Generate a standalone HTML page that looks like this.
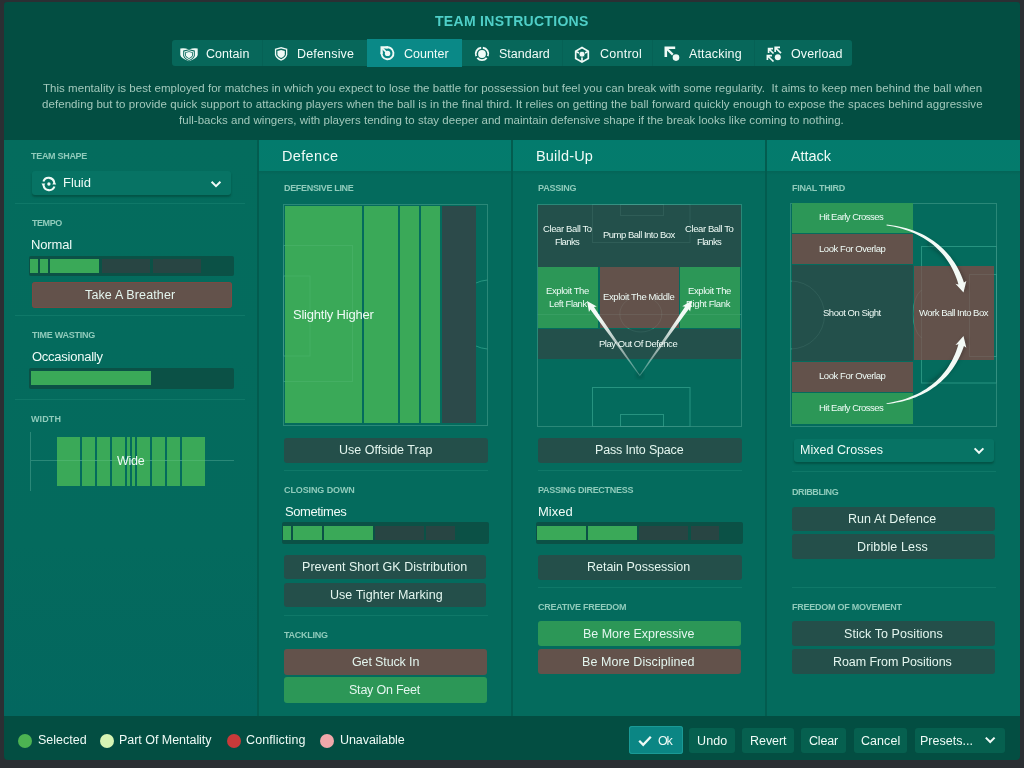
<!DOCTYPE html>
<html><head><meta charset="utf-8"><style>
html,body{margin:0;padding:0;width:1024px;height:768px;overflow:hidden;background:#2b2f33;}
body{position:relative;font-family:"Liberation Sans", sans-serif;}
div,span,svg{position:absolute;}
span{white-space:nowrap;will-change:transform;}
</style></head><body>
<div style="left:4px;top:2px;width:1016px;height:758px;background:#034e42;border-radius:3px 3px 4px 4px;"></div>
<div style="left:4px;top:140px;width:253px;height:576px;background:linear-gradient(180deg,#046c5d 0%,#046a5d 70%,#03675f 100%);"></div>
<div style="left:257px;top:140px;width:2px;height:576px;background:#035c4f;"></div>
<div style="left:511px;top:140px;width:2px;height:576px;background:#035c4f;"></div>
<div style="left:765px;top:140px;width:2px;height:576px;background:#035c4f;"></div>
<div style="left:259px;top:140px;width:252px;height:576px;background:#046b5d;"></div>
<div style="left:259px;top:140px;width:252px;height:31px;background:linear-gradient(180deg,#037b6d 0%,#047b6c 100%);"></div>
<div style="left:259px;top:171px;width:252px;height:4px;background:linear-gradient(180deg,rgba(0,40,30,0.10),rgba(0,0,0,0));"></div>
<div style="left:513px;top:140px;width:252px;height:576px;background:#046b5d;"></div>
<div style="left:513px;top:140px;width:252px;height:31px;background:linear-gradient(180deg,#037b6d 0%,#047b6c 100%);"></div>
<div style="left:513px;top:171px;width:252px;height:4px;background:linear-gradient(180deg,rgba(0,40,30,0.10),rgba(0,0,0,0));"></div>
<div style="left:767px;top:140px;width:253px;height:576px;background:#046b5d;"></div>
<div style="left:767px;top:140px;width:253px;height:31px;background:linear-gradient(180deg,#037b6d 0%,#047b6c 100%);"></div>
<div style="left:767px;top:171px;width:253px;height:4px;background:linear-gradient(180deg,rgba(0,40,30,0.10),rgba(0,0,0,0));"></div>
<svg style="left:0;top:0" width="1024" height="768" viewBox="0 0 1024 768">
<defs><clipPath id="cpd"><rect x="476" y="200" width="14" height="230"/></clipPath></defs>
<g fill="none" stroke="rgba(80,215,180,0.30)" stroke-width="1">
<rect x="283.5" y="245.5" width="69" height="136"/>
<rect x="283.5" y="276" width="26.5" height="80"/>
<path d="M487.5,280 A34.6,34.6 0 0 0 487.5,349" clip-path="url(#cpd)"/>
<rect x="592.5" y="204.5" width="97.5" height="38"/>
<rect x="620.5" y="204.5" width="43" height="11"/>
<rect x="592.5" y="387.5" width="97.5" height="39"/>
<rect x="620.5" y="414.5" width="43" height="12"/>
<line x1="537.5" y1="314.5" x2="741.5" y2="314.5"/>
<ellipse cx="640.8" cy="314" rx="21" ry="18"/>
<rect x="921.5" y="246.5" width="75" height="136.5"/>
<rect x="969.5" y="274.5" width="27" height="82"/>
<path d="M790.5,281 A34,34 0 0 1 790.5,349"/>
<path d="M921.5,290 A14,26 0 0 0 921.5,338"/>
</g></svg>
<div style="left:172px;top:40px;width:680px;height:26px;background:#07675a;border-radius:3px;"></div>
<div style="left:262px;top:40px;width:1px;height:26px;background:#066155;"></div>
<div style="left:562px;top:40px;width:1px;height:26px;background:#066155;"></div>
<div style="left:652px;top:40px;width:1px;height:26px;background:#066155;"></div>
<div style="left:754px;top:40px;width:1px;height:26px;background:#066155;"></div>
<div style="left:367px;top:39px;width:95px;height:28px;background:#0a8987;"></div>
<div style="left:32px;top:171px;width:199px;height:24px;background:#077364;border-radius:3px;box-shadow:0 2px 2px rgba(0,40,30,0.35);"></div>
<div style="left:15px;top:203px;width:230px;height:1px;background:#0f7868;"></div>
<div style="left:29px;top:256px;width:205px;height:20px;background:#0b5146;border-radius:2px;"></div>
<div style="left:30px;top:259px;width:8px;height:14px;background:#3aa958;"></div>
<div style="left:40px;top:259px;width:8px;height:14px;background:#3aa958;"></div>
<div style="left:50px;top:259px;width:49px;height:14px;background:#3aa958;"></div>
<div style="left:101.5px;top:259px;width:48.5px;height:14px;background:#284543;"></div>
<div style="left:152.5px;top:259px;width:48.0px;height:14px;background:#284543;"></div>
<div style="left:31.5px;top:282px;width:200.5px;height:26px;background:#63524b;border-radius:3px;box-shadow:inset 0 0 0 1px rgba(150,65,55,0.45);"></div>
<div style="left:15px;top:315px;width:230px;height:1px;background:#0f7868;"></div>
<div style="left:29px;top:367.5px;width:205px;height:21.0px;background:#0b5146;border-radius:2px;"></div>
<div style="left:31px;top:371px;width:120px;height:14px;background:#3aa958;"></div>
<div style="left:15px;top:399px;width:230px;height:1px;background:#0f7868;"></div>
<div style="left:30px;top:432px;width:1px;height:59px;background:#2a8878;"></div>
<div style="left:30px;top:460px;width:204px;height:1px;background:#2a8878;"></div>
<div style="left:57px;top:437px;width:23px;height:49px;background:#3aa958;"></div>
<div style="left:82px;top:437px;width:13px;height:49px;background:#3aa958;"></div>
<div style="left:97px;top:437px;width:13px;height:49px;background:#3aa958;"></div>
<div style="left:112px;top:437px;width:13px;height:49px;background:#3aa958;"></div>
<div style="left:127px;top:437px;width:3px;height:49px;background:#3aa958;"></div>
<div style="left:132px;top:437px;width:3px;height:49px;background:#3aa958;"></div>
<div style="left:137px;top:437px;width:13px;height:49px;background:#3aa958;"></div>
<div style="left:152px;top:437px;width:13px;height:49px;background:#3aa958;"></div>
<div style="left:167px;top:437px;width:13px;height:49px;background:#3aa958;"></div>
<div style="left:182px;top:437px;width:23px;height:49px;background:#3aa958;"></div>
<div style="left:57px;top:460px;width:148px;height:1px;background:rgba(200,255,235,0.12);"></div>
<div style="left:283px;top:203.5px;width:205px;height:222.5px;background:transparent;box-shadow:inset 0 0 0 1px #2a8878;"></div>
<div style="left:285px;top:206px;width:77px;height:217px;background:#3aa958;"></div>
<div style="left:364px;top:206px;width:34px;height:217px;background:#3aa958;"></div>
<div style="left:400px;top:206px;width:19px;height:217px;background:#3aa958;"></div>
<div style="left:421px;top:206px;width:19px;height:217px;background:#3aa958;"></div>
<div style="left:442px;top:206px;width:34px;height:217px;background:#2c4a4a;"></div>
<div style="left:284px;top:437.5px;width:204px;height:25.0px;background:#244f4a;border-radius:3px;"></div>
<div style="left:284px;top:470px;width:204px;height:1px;background:#0f7868;"></div>
<div style="left:282px;top:522px;width:207px;height:22px;background:#0b5146;border-radius:2px;"></div>
<div style="left:283.3px;top:526px;width:7.699999999999989px;height:14px;background:#3aa958;"></div>
<div style="left:293px;top:526px;width:29px;height:14px;background:#3aa958;"></div>
<div style="left:324px;top:526px;width:49px;height:14px;background:#3aa958;"></div>
<div style="left:375px;top:526px;width:49px;height:14px;background:#284543;"></div>
<div style="left:426px;top:526px;width:29px;height:14px;background:#284543;"></div>
<div style="left:284px;top:554.6px;width:202px;height:24.600000000000023px;background:#244f4a;border-radius:3px;"></div>
<div style="left:284px;top:582.7px;width:202px;height:24.59999999999991px;background:#244f4a;border-radius:3px;"></div>
<div style="left:284px;top:614.5px;width:204px;height:1.0px;background:#0f7868;"></div>
<div style="left:284px;top:649.4px;width:203px;height:25.600000000000023px;background:#63524b;border-radius:3px;"></div>
<div style="left:284px;top:677px;width:203px;height:26px;background:#2c9757;border-radius:3px;"></div>
<div style="left:537px;top:204px;width:205px;height:223px;background:transparent;box-shadow:inset 0 0 0 1px #2a8878;"></div>
<div style="left:538px;top:204.5px;width:203px;height:62.0px;background:#23504b;"></div>
<div style="left:538px;top:267px;width:60px;height:61px;background:#2c9757;"></div>
<div style="left:599.5px;top:267px;width:79.0px;height:61px;background:#63524b;"></div>
<div style="left:680px;top:267px;width:60px;height:61px;background:#2c9757;"></div>
<div style="left:538px;top:328.5px;width:203px;height:30.5px;background:#23504b;"></div>
<div style="left:538px;top:437.5px;width:203.5px;height:25.0px;background:#244f4a;border-radius:3px;"></div>
<div style="left:538px;top:470px;width:204px;height:1px;background:#0f7868;"></div>
<div style="left:536px;top:522px;width:207px;height:22px;background:#0b5146;border-radius:2px;"></div>
<div style="left:537px;top:526px;width:49px;height:14px;background:#3aa958;"></div>
<div style="left:588px;top:526px;width:49px;height:14px;background:#3aa958;"></div>
<div style="left:639px;top:526px;width:49px;height:14px;background:#284543;"></div>
<div style="left:691px;top:526px;width:27.5px;height:14px;background:#284543;"></div>
<div style="left:538px;top:554.6px;width:203.5px;height:25.199999999999932px;background:#244f4a;border-radius:3px;"></div>
<div style="left:538px;top:587px;width:204px;height:1px;background:#0f7868;"></div>
<div style="left:538px;top:621px;width:203px;height:25.399999999999977px;background:#2c9757;border-radius:3px;"></div>
<div style="left:538px;top:649.2px;width:203px;height:25.299999999999955px;background:#63524b;border-radius:3px;"></div>
<div style="left:790px;top:203px;width:207px;height:224px;background:transparent;box-shadow:inset 0 0 0 1px #2a8878;"></div>
<div style="left:792px;top:202.5px;width:121px;height:30.5px;background:#2c9757;"></div>
<div style="left:792px;top:234px;width:121px;height:30px;background:#63524b;"></div>
<div style="left:792px;top:265px;width:121px;height:95.5px;background:#23504b;"></div>
<div style="left:792px;top:361.5px;width:121px;height:30.5px;background:#63524b;"></div>
<div style="left:792px;top:393px;width:121px;height:31px;background:#2c9757;"></div>
<div style="left:913.7px;top:266px;width:80.29999999999995px;height:94px;background:#63524b;"></div>
<div style="left:794px;top:438.6px;width:200px;height:23.399999999999977px;background:#077364;border-radius:3px;box-shadow:0 2px 2px rgba(0,40,30,0.35);"></div>
<div style="left:792px;top:471px;width:204px;height:1px;background:#0f7868;"></div>
<div style="left:792px;top:506.7px;width:203px;height:24.599999999999966px;background:#244f4a;border-radius:3px;"></div>
<div style="left:792px;top:534.4px;width:203px;height:25.0px;background:#244f4a;border-radius:3px;"></div>
<div style="left:792px;top:586.5px;width:204px;height:1.0px;background:#0f7868;"></div>
<div style="left:792px;top:621px;width:203px;height:25.399999999999977px;background:#244f4a;border-radius:3px;"></div>
<div style="left:792px;top:649.2px;width:203px;height:25.299999999999955px;background:#244f4a;border-radius:3px;"></div>
<div style="left:18px;top:734px;width:14px;height:14px;background:#4cb352;border-radius:50%;"></div>
<div style="left:100px;top:734px;width:14px;height:14px;background:#d6f5b4;border-radius:50%;"></div>
<div style="left:227px;top:734px;width:14px;height:14px;background:#c83a3a;border-radius:50%;"></div>
<div style="left:320px;top:734px;width:14px;height:14px;background:#f0a8aa;border-radius:50%;"></div>
<div style="left:629px;top:726px;width:54px;height:27.5px;background:#0b8684;border-radius:3px;box-shadow:inset 0 0 0 1px #1a9a96;"></div>
<div style="left:689.3px;top:727.5px;width:45.90000000000009px;height:25.0px;background:#06604f;border-radius:3px;"></div>
<div style="left:742px;top:727.5px;width:51.799999999999955px;height:25.0px;background:#06604f;border-radius:3px;"></div>
<div style="left:801.4px;top:727.5px;width:44.60000000000002px;height:25.0px;background:#06604f;border-radius:3px;"></div>
<div style="left:853.5px;top:727.5px;width:53.0px;height:25.0px;background:#06604f;border-radius:3px;"></div>
<div style="left:914.5px;top:727.5px;width:90.29999999999995px;height:25.0px;background:#06604f;border-radius:3px;"></div>
<svg style="left:0;top:0" width="1024" height="768" viewBox="0 0 1024 768">
<defs><clipPath id="cpd"><rect x="476" y="200" width="14" height="230"/></clipPath></defs>
<g fill="none" stroke="rgba(200,255,235,0.075)" stroke-width="1">
<rect x="283.5" y="245.5" width="69" height="136"/>
<rect x="283.5" y="276" width="26.5" height="80"/>
<path d="M487.5,280 A34.6,34.6 0 0 0 487.5,349" clip-path="url(#cpd)"/>
<rect x="592.5" y="204.5" width="97.5" height="38"/>
<rect x="620.5" y="204.5" width="43" height="11"/>
<rect x="592.5" y="387.5" width="97.5" height="39"/>
<rect x="620.5" y="414.5" width="43" height="12"/>
<line x1="537.5" y1="314.5" x2="741.5" y2="314.5"/>
<ellipse cx="640.8" cy="314" rx="21" ry="18"/>
<rect x="921.5" y="246.5" width="75" height="136.5"/>
<rect x="969.5" y="274.5" width="27" height="82"/>
<path d="M790.5,281 A34,34 0 0 1 790.5,349"/>
<path d="M921.5,290 A14,26 0 0 0 921.5,338"/>
</g></svg>
<span style="left:435.00px;top:14.00px;font-size:14px;line-height:14px;font-weight:700;color:#4fcfc8;letter-spacing:0.299px;">TEAM INSTRUCTIONS</span>
<span style="left:206.30px;top:48.00px;font-size:12.5px;line-height:12.5px;font-weight:400;color:#f2fcf8;letter-spacing:0.045px;">Contain</span>
<span style="left:297.40px;top:48.00px;font-size:12.5px;line-height:12.5px;font-weight:400;color:#f2fcf8;letter-spacing:0.171px;">Defensive</span>
<span style="left:404.40px;top:48.00px;font-size:12.5px;line-height:12.5px;font-weight:400;color:#f2fcf8;letter-spacing:0.049px;">Counter</span>
<span style="left:499.00px;top:48.00px;font-size:12.5px;line-height:12.5px;font-weight:400;color:#f2fcf8;letter-spacing:0.003px;">Standard</span>
<span style="left:599.50px;top:48.00px;font-size:12.5px;line-height:12.5px;font-weight:400;color:#f2fcf8;letter-spacing:0.247px;">Control</span>
<span style="left:689.30px;top:48.00px;font-size:12.5px;line-height:12.5px;font-weight:400;color:#f2fcf8;letter-spacing:0.154px;">Attacking</span>
<span style="left:791.30px;top:48.00px;font-size:12.5px;line-height:12.5px;font-weight:400;color:#f2fcf8;letter-spacing:0.105px;">Overload</span>
<span style="left:42.70px;top:83.00px;font-size:11.5px;line-height:11.5px;font-weight:400;color:#a3c9bc;letter-spacing:0.040px;">This mentality is best employed for matches in which you expect to lose the battle for possession but feel you can break with some regularity.  It aims to keep men behind the ball when</span>
<span style="left:42.10px;top:99.00px;font-size:11.5px;line-height:11.5px;font-weight:400;color:#a3c9bc;letter-spacing:0.066px;">defending but to provide quick support to attacking players when the ball is in the final third. It relies on getting the ball forward quickly enough to expose the spaces behind aggressive</span>
<span style="left:179.40px;top:115.00px;font-size:11.5px;line-height:11.5px;font-weight:400;color:#a3c9bc;letter-spacing:0.024px;">full-backs and wingers, with players tending to stay deeper and maintain defensive shape if the break looks like coming to nothing.</span>
<span style="left:31.10px;top:152.00px;font-size:9px;line-height:9px;font-weight:700;color:#90cbbb;letter-spacing:-0.300px;">TEAM SHAPE</span>
<span style="left:62.60px;top:176.00px;font-size:13px;line-height:13px;font-weight:400;color:#effbf6;letter-spacing:-0.062px;">Fluid</span>
<span style="left:31.70px;top:219.00px;font-size:9px;line-height:9px;font-weight:700;color:#90cbbb;letter-spacing:-0.450px;">TEMPO</span>
<span style="left:31.40px;top:238.00px;font-size:13px;line-height:13px;font-weight:400;color:#effbf6;letter-spacing:-0.141px;">Normal</span>
<span style="left:85.40px;top:289.00px;font-size:12.5px;line-height:12.5px;font-weight:400;color:#e4f6ef;letter-spacing:0.138px;">Take A Breather</span>
<span style="left:31.60px;top:331.00px;font-size:9px;line-height:9px;font-weight:700;color:#90cbbb;letter-spacing:-0.254px;">TIME WASTING</span>
<span style="left:32.30px;top:350.00px;font-size:13px;line-height:13px;font-weight:400;color:#effbf6;letter-spacing:-0.254px;">Occasionally</span>
<span style="left:31.00px;top:415.00px;font-size:9px;line-height:9px;font-weight:700;color:#90cbbb;letter-spacing:0.102px;">WIDTH</span>
<span style="left:117.40px;top:455.00px;font-size:12.5px;line-height:12.5px;font-weight:400;color:#effbf6;letter-spacing:-0.242px;">Wide</span>
<span style="left:282.00px;top:149.00px;font-size:14.5px;line-height:14.5px;font-weight:400;color:#effbf6;letter-spacing:0.343px;">Defence</span>
<span style="left:284.30px;top:184.00px;font-size:9px;line-height:9px;font-weight:700;color:#90cbbb;letter-spacing:-0.324px;">DEFENSIVE LINE</span>
<span style="left:292.60px;top:308.00px;font-size:13px;line-height:13px;font-weight:400;color:#effbf6;letter-spacing:-0.220px;">Slightly Higher</span>
<span style="left:338.70px;top:444.00px;font-size:12.5px;line-height:12.5px;font-weight:400;color:#e4f6ef;letter-spacing:-0.002px;">Use Offside Trap</span>
<span style="left:284.20px;top:486.00px;font-size:9px;line-height:9px;font-weight:700;color:#90cbbb;letter-spacing:-0.109px;">CLOSING DOWN</span>
<span style="left:285.30px;top:505.00px;font-size:13px;line-height:13px;font-weight:400;color:#effbf6;letter-spacing:-0.415px;">Sometimes</span>
<span style="left:302.00px;top:561.00px;font-size:12.5px;line-height:12.5px;font-weight:400;color:#e4f6ef;letter-spacing:0.046px;">Prevent Short GK Distribution</span>
<span style="left:329.50px;top:589.00px;font-size:12.5px;line-height:12.5px;font-weight:400;color:#e4f6ef;letter-spacing:0.043px;">Use Tighter Marking</span>
<span style="left:284.20px;top:631.00px;font-size:9px;line-height:9px;font-weight:700;color:#90cbbb;letter-spacing:-0.261px;">TACKLING</span>
<span style="left:351.50px;top:656.00px;font-size:12.5px;line-height:12.5px;font-weight:400;color:#e4f6ef;letter-spacing:-0.130px;">Get Stuck In</span>
<span style="left:349.30px;top:684.00px;font-size:12.5px;line-height:12.5px;font-weight:400;color:#e4f6ef;letter-spacing:-0.216px;">Stay On Feet</span>
<span style="left:536.20px;top:149.00px;font-size:14.5px;line-height:14.5px;font-weight:400;color:#effbf6;letter-spacing:0.180px;">Build-Up</span>
<span style="left:537.90px;top:184.00px;font-size:9px;line-height:9px;font-weight:700;color:#90cbbb;letter-spacing:-0.207px;">PASSING</span>
<span style="left:543.00px;top:224.00px;font-size:9.5px;line-height:9.5px;font-weight:400;color:#effbf6;letter-spacing:-0.381px;">Clear Ball To</span>
<span style="left:555.00px;top:237.00px;font-size:9.5px;line-height:9.5px;font-weight:400;color:#effbf6;letter-spacing:-0.646px;">Flanks</span>
<span style="left:685.30px;top:224.00px;font-size:9.5px;line-height:9.5px;font-weight:400;color:#effbf6;letter-spacing:-0.406px;">Clear Ball To</span>
<span style="left:697.20px;top:237.00px;font-size:9.5px;line-height:9.5px;font-weight:400;color:#effbf6;letter-spacing:-0.646px;">Flanks</span>
<span style="left:602.80px;top:230.00px;font-size:9.5px;line-height:9.5px;font-weight:400;color:#effbf6;letter-spacing:-0.502px;">Pump Ball Into Box</span>
<span style="left:545.60px;top:286.00px;font-size:9.5px;line-height:9.5px;font-weight:400;color:#effbf6;letter-spacing:-0.414px;">Exploit The</span>
<span style="left:549.40px;top:299.00px;font-size:9.5px;line-height:9.5px;font-weight:400;color:#effbf6;letter-spacing:-0.396px;">Left Flank</span>
<span style="left:687.80px;top:286.00px;font-size:9.5px;line-height:9.5px;font-weight:400;color:#effbf6;letter-spacing:-0.404px;">Exploit The</span>
<span style="left:686.30px;top:299.00px;font-size:9.5px;line-height:9.5px;font-weight:400;color:#effbf6;letter-spacing:-0.360px;">Right Flank</span>
<span style="left:602.80px;top:292.00px;font-size:9.5px;line-height:9.5px;font-weight:400;color:#effbf6;letter-spacing:-0.368px;">Exploit The Middle</span>
<span style="left:599.40px;top:339.00px;font-size:9.5px;line-height:9.5px;font-weight:400;color:#effbf6;letter-spacing:-0.469px;">Play Out Of Defence</span>
<span style="left:594.50px;top:444.00px;font-size:12.5px;line-height:12.5px;font-weight:400;color:#e4f6ef;letter-spacing:-0.170px;">Pass Into Space</span>
<span style="left:538.30px;top:486.00px;font-size:9px;line-height:9px;font-weight:700;color:#90cbbb;letter-spacing:-0.291px;">PASSING DIRECTNESS</span>
<span style="left:538.40px;top:505.00px;font-size:13px;line-height:13px;font-weight:400;color:#effbf6;letter-spacing:-0.012px;">Mixed</span>
<span style="left:587.20px;top:561.00px;font-size:12.5px;line-height:12.5px;font-weight:400;color:#e4f6ef;letter-spacing:-0.023px;">Retain Possession</span>
<span style="left:538.00px;top:603.00px;font-size:9px;line-height:9px;font-weight:700;color:#90cbbb;letter-spacing:-0.256px;">CREATIVE FREEDOM</span>
<span style="left:583.20px;top:628.00px;font-size:12.5px;line-height:12.5px;font-weight:400;color:#e4f6ef;letter-spacing:-0.023px;">Be More Expressive</span>
<span style="left:582.40px;top:656.00px;font-size:12.5px;line-height:12.5px;font-weight:400;color:#e4f6ef;letter-spacing:0.077px;">Be More Disciplined</span>
<span style="left:791.20px;top:149.00px;font-size:14.5px;line-height:14.5px;font-weight:400;color:#effbf6;letter-spacing:-0.049px;">Attack</span>
<span style="left:791.90px;top:184.00px;font-size:9px;line-height:9px;font-weight:700;color:#90cbbb;letter-spacing:-0.309px;">FINAL THIRD</span>
<span style="left:819.00px;top:212.00px;font-size:9.5px;line-height:9.5px;font-weight:400;color:#effbf6;letter-spacing:-0.539px;">Hit Early Crosses</span>
<span style="left:819.00px;top:244.00px;font-size:9.5px;line-height:9.5px;font-weight:400;color:#effbf6;letter-spacing:-0.434px;">Look For Overlap</span>
<span style="left:823.00px;top:308.00px;font-size:9.5px;line-height:9.5px;font-weight:400;color:#effbf6;letter-spacing:-0.484px;">Shoot On Sight</span>
<span style="left:919.00px;top:308.00px;font-size:9.5px;line-height:9.5px;font-weight:400;color:#effbf6;letter-spacing:-0.501px;">Work Ball Into Box</span>
<span style="left:819.00px;top:371.00px;font-size:9.5px;line-height:9.5px;font-weight:400;color:#effbf6;letter-spacing:-0.434px;">Look For Overlap</span>
<span style="left:819.00px;top:403.00px;font-size:9.5px;line-height:9.5px;font-weight:400;color:#effbf6;letter-spacing:-0.539px;">Hit Early Crosses</span>
<span style="left:799.50px;top:444.00px;font-size:12.5px;line-height:12.5px;font-weight:400;color:#effbf6;letter-spacing:0.024px;">Mixed Crosses</span>
<span style="left:792.30px;top:488.00px;font-size:9px;line-height:9px;font-weight:700;color:#90cbbb;letter-spacing:-0.412px;">DRIBBLING</span>
<span style="left:848.10px;top:513.00px;font-size:12.5px;line-height:12.5px;font-weight:400;color:#e4f6ef;letter-spacing:0.047px;">Run At Defence</span>
<span style="left:856.70px;top:541.00px;font-size:12.5px;line-height:12.5px;font-weight:400;color:#e4f6ef;letter-spacing:0.116px;">Dribble Less</span>
<span style="left:792.00px;top:603.00px;font-size:9px;line-height:9px;font-weight:700;color:#90cbbb;letter-spacing:-0.245px;">FREEDOM OF MOVEMENT</span>
<span style="left:844.00px;top:628.00px;font-size:12.5px;line-height:12.5px;font-weight:400;color:#e4f6ef;letter-spacing:0.064px;">Stick To Positions</span>
<span style="left:833.30px;top:656.00px;font-size:12.5px;line-height:12.5px;font-weight:400;color:#e4f6ef;letter-spacing:-0.079px;">Roam From Positions</span>
<span style="left:37.50px;top:734.00px;font-size:12.5px;line-height:12.5px;font-weight:400;color:#effbf6;letter-spacing:0.015px;">Selected</span>
<span style="left:118.50px;top:734.00px;font-size:12.5px;line-height:12.5px;font-weight:400;color:#effbf6;letter-spacing:-0.033px;">Part Of Mentality</span>
<span style="left:246.30px;top:734.00px;font-size:12.5px;line-height:12.5px;font-weight:400;color:#effbf6;letter-spacing:0.109px;">Conflicting</span>
<span style="left:339.50px;top:734.00px;font-size:12.5px;line-height:12.5px;font-weight:400;color:#effbf6;letter-spacing:-0.057px;">Unavailable</span>
<span style="left:657.50px;top:735.00px;font-size:12.5px;line-height:12.5px;font-weight:400;color:#effbf6;letter-spacing:-1.123px;">Ok</span>
<span style="left:697.10px;top:735.00px;font-size:12.5px;line-height:12.5px;font-weight:400;color:#effbf6;letter-spacing:0.123px;">Undo</span>
<span style="left:749.50px;top:735.00px;font-size:12.5px;line-height:12.5px;font-weight:400;color:#effbf6;letter-spacing:-0.049px;">Revert</span>
<span style="left:809.40px;top:735.00px;font-size:12.5px;line-height:12.5px;font-weight:400;color:#effbf6;letter-spacing:-0.177px;">Clear</span>
<span style="left:861.30px;top:735.00px;font-size:12.5px;line-height:12.5px;font-weight:400;color:#effbf6;letter-spacing:0.053px;">Cancel</span>
<span style="left:920.40px;top:735.00px;font-size:12.5px;line-height:12.5px;font-weight:400;color:#effbf6;letter-spacing:0.009px;">Presets...</span>
<svg style="left:0;top:0" width="1024" height="768" viewBox="0 0 1024 768">
<defs><filter id="bl" x="-50%" y="-50%" width="200%" height="200%"><feGaussianBlur stdDeviation="2"/></filter></defs>
<g fill="none" stroke="rgba(30,30,30,0.35)" stroke-width="4" filter="url(#bl)">
<path d="M928.1,242.8 L930.9,244.5 L933.6,246.2 L936.2,248.1 L938.8,250.0 L941.3,252.1 L943.7,254.3 L946.1,256.6 L948.3,259.0 L950.5,261.5 L952.5,264.2 L954.5,266.9 L956.3,269.8 L958.1,272.8 L959.8,275.9 L961.3,279.1 L962.7,282.4 L964.0,285.9 L965.2,289.5"/><path d="M928.1,385.8 L930.9,384.1 L933.6,382.4 L936.2,380.5 L938.8,378.6 L941.3,376.5 L943.7,374.3 L946.1,372.0 L948.3,369.6 L950.5,367.1 L952.5,364.4 L954.5,361.7 L956.3,358.8 L958.1,355.8 L959.8,352.7 L961.3,349.5 L962.7,346.2 L964.0,342.7 L965.2,339.1"/></g>
<linearGradient id="gL" gradientUnits="userSpaceOnUse" x1="639.8" y1="375.6" x2="600" y2="318"><stop offset="0" stop-color="#f3faf6" stop-opacity="0.25"/><stop offset="1" stop-color="#f3faf6" stop-opacity="1"/></linearGradient>
<linearGradient id="gR" gradientUnits="userSpaceOnUse" x1="639.8" y1="375.6" x2="680" y2="318"><stop offset="0" stop-color="#f3faf6" stop-opacity="0.25"/><stop offset="1" stop-color="#f3faf6" stop-opacity="1"/></linearGradient>
<circle cx="639.8" cy="375" r="2.5" fill="rgba(0,30,25,0.35)" filter="url(#bl)"/>
<path d="M640.13,375.37 L635.51,368.54 L630.90,361.71 L626.29,354.88 L621.67,348.05 L617.06,341.22 L612.45,334.39 L607.83,327.56 L603.22,320.73 L598.61,313.90 L594.00,307.08 L596.81,306.55 L587.00,301.00 L588.97,312.10 L590.40,309.62 L595.31,316.24 L600.22,322.86 L605.12,329.48 L610.03,336.10 L614.94,342.72 L619.85,349.35 L624.75,355.97 L629.66,362.59 L634.57,369.21 L639.47,375.83 Z" fill="url(#gL)"/>
<path d="M640.13,375.83 L644.98,369.16 L649.84,362.49 L654.69,355.82 L659.54,349.16 L664.40,342.49 L669.25,335.82 L674.11,329.15 L678.96,322.48 L683.82,315.81 L688.67,309.15 L690.12,311.62 L692.00,300.50 L682.24,306.14 L685.06,306.63 L680.50,313.51 L675.94,320.38 L671.38,327.26 L666.82,334.13 L662.26,341.00 L657.71,347.88 L653.15,354.75 L648.59,361.62 L644.03,368.50 L639.47,375.37 Z" fill="url(#gR)"/>
<g fill="#f3faf6">
<path d="M886.55,225.40 L889.85,225.92 L893.12,226.54 L896.36,227.26 L899.56,228.07 L902.72,228.97 L905.83,229.97 L908.89,231.07 L911.90,232.26 L914.86,233.55 L917.75,234.94 L920.58,236.43 L923.35,238.01 L926.05,239.70 L928.67,241.49 L931.22,243.37 L933.70,245.36 L936.08,247.45 L938.39,249.65 L940.61,251.94 L942.73,254.34 L944.77,256.85 L946.70,259.46 L948.54,262.18 L950.28,265.00 L951.91,267.94 L953.44,270.98 L954.85,274.14 L956.16,277.41 L957.34,280.79 L958.45,284.41 L955.48,283.72 L963.50,292.50 L966.33,280.95 L963.95,282.59 L962.69,279.03 L961.27,275.48 L959.73,272.06 L958.07,268.77 L956.30,265.61 L954.42,262.57 L952.43,259.65 L950.34,256.86 L948.15,254.20 L945.87,251.66 L943.51,249.24 L941.05,246.94 L938.52,244.76 L935.91,242.70 L933.23,240.75 L930.47,238.92 L927.65,237.21 L924.77,235.60 L921.83,234.11 L918.84,232.73 L915.80,231.45 L912.70,230.28 L909.57,229.22 L906.39,228.26 L903.18,227.40 L899.93,226.65 L896.65,225.99 L893.34,225.43 L890.01,224.97 L886.65,224.60 Z"/><path d="M886.65,404.00 L890.01,403.63 L893.34,403.17 L896.65,402.61 L899.93,401.95 L903.18,401.20 L906.39,400.34 L909.57,399.38 L912.70,398.32 L915.80,397.15 L918.84,395.87 L921.83,394.49 L924.77,393.00 L927.65,391.39 L930.47,389.68 L933.23,387.85 L935.91,385.90 L938.52,383.84 L941.05,381.66 L943.51,379.36 L945.87,376.94 L948.15,374.40 L950.34,371.74 L952.43,368.95 L954.42,366.03 L956.30,362.99 L958.07,359.83 L959.73,356.54 L961.27,353.12 L962.69,349.57 L963.95,346.01 L966.33,347.65 L963.50,336.10 L955.48,344.88 L958.45,344.19 L957.34,347.81 L956.16,351.19 L954.85,354.46 L953.44,357.62 L951.91,360.66 L950.28,363.60 L948.54,366.42 L946.70,369.14 L944.77,371.75 L942.73,374.26 L940.61,376.66 L938.39,378.95 L936.08,381.15 L933.70,383.24 L931.22,385.23 L928.67,387.11 L926.05,388.90 L923.35,390.59 L920.58,392.17 L917.75,393.66 L914.86,395.05 L911.90,396.34 L908.89,397.53 L905.83,398.63 L902.72,399.63 L899.56,400.53 L896.36,401.34 L893.12,402.06 L889.85,402.68 L886.55,403.20 Z"/>
</g>
</svg>
<svg style="left:0;top:0" width="1024" height="768" viewBox="0 0 1024 768">
<!-- contain -->
<path d="M180.3,48.6 Q184,47.6 189,49.4 Q194,47.6 197.7,48.6 L197.7,55 Q197,58.5 189,61.2 Q181,58.5 180.3,55 Z" fill="#effaf6"/>
<path d="M183.2,50.616 L189.0,49.2 L194.8,50.616 L194.8,55.336 Q194.8,58.64 189.0,61 Q183.2,58.64 183.2,55.336 Z" fill="#07675a"/>
<path d="M184.2,51.376000000000005 L189.0,50.2 L193.8,51.376000000000005 L193.8,55.296 Q193.8,58.04 189.0,60 Q184.2,58.04 184.2,55.296 Z" fill="#effaf6"/>
<path d="M185.2,52.211999999999996 L189.0,51.3 L192.8,52.211999999999996 L192.8,55.251999999999995 Q192.8,57.379999999999995 189.0,58.9 Q185.2,57.379999999999995 185.2,55.251999999999995 Z" fill="#07675a"/>
<path d="M186,52.744 L189.0,52 L192,52.744 L192,55.224000000000004 Q192,56.96 189.0,58.2 Q186,56.96 186,55.224000000000004 Z" fill="#effaf6"/>
<!-- defensive -->
<path d="M274.9,48.656 L281.1,47 L287.3,48.656 L287.3,54.176 Q287.3,58.04 281.1,60.8 Q274.9,58.04 274.9,54.176 Z" fill="#effaf6"/>
<path d="M276.2,49.784 L281.1,48.5 L286,49.784 L286,54.064 Q286,57.06 281.1,59.2 Q276.2,57.06 276.2,54.064 Z" fill="#07675a"/>
<path d="M277.4,50.96 L281.1,50 L284.8,50.96 L284.8,54.16 Q284.8,56.4 281.1,58 Q277.4,56.4 277.4,54.16 Z" fill="#effaf6"/>
<!-- counter -->
<g stroke="#effaf6" fill="none" stroke-width="1.9">
<path d="M385.5,47.6 A6,6 0 1 1 381.7,51.6"/>
<path d="M381.6,54 L381.6,47.4 L388,47.4" stroke-width="2.2"/>
<line x1="382" y1="47.8" x2="386" y2="51.8" stroke-width="1.8"/>
</g>
<circle cx="387.6" cy="53.4" r="2.7" fill="#effaf6"/>
<!-- standard -->
<g stroke="#effaf6" fill="none" stroke-width="1.9">
<path d="M481.2,47.7 A6.1,6.1 0 0 0 476.2,56.2"/>
<path d="M482.8,47.7 A6.1,6.1 0 0 1 487.8,56.2"/>
<path d="M477.3,57.9 A6.1,6.1 0 0 0 486.7,57.9"/>
</g>
<circle cx="482" cy="54" r="3.9" fill="#effaf6"/>
<!-- control -->
<g stroke="#effaf6" fill="none" stroke-width="1.7">
<path d="M582,47.6 L588.3,51.2 L588.3,58.4 L582,62 L575.7,58.4 L575.7,51.2 Z"/>
<path d="M576,51.4 L582,54.5 L588,51.4 M582,54.5 L582,61.5"/>
</g>
<circle cx="582" cy="54.2" r="3" fill="#effaf6" stroke="#07675a" stroke-width="0.8"/>
<!-- attacking -->
<g stroke="#effaf6" fill="none">
<path d="M665.8,57 L665.8,47.8 L675.2,47.8" stroke-width="2.6"/>
<line x1="666.5" y1="48.5" x2="672.8" y2="54.6" stroke-width="2.2"/>
</g>
<circle cx="676" cy="57.6" r="3.3" fill="#effaf6"/>
<!-- overload -->
<g stroke="#effaf6" fill="none" stroke-width="1.7">
<path d="M768.6,53 L768.6,48.6 L773,48.6 M769,49 L773.5,53.5"/>
<path d="M775.2,52 L775.2,47.4 L780,47.4 M775.6,47.8 L781,53.2"/>
<path d="M767.4,60 L767.4,55.6 L772,55.6 M767.8,56 L773.5,61.5"/>
</g>
<circle cx="777.8" cy="57.3" r="3" fill="#effaf6"/>
<!-- fluid -->
<g stroke="#effaf6" fill="none" stroke-width="2.1">
<path d="M43.4,181.5 A5.6,5.6 0 0 1 54.2,182.6"/>
<path d="M54.4,186.5 A5.6,5.6 0 0 1 43.6,185.4"/>
</g>
<path d="M41.5,183.6 L45.3,183.6 L43.4,187 Z" fill="#effaf6"/>
<path d="M52.3,184.4 L56.2,184.4 L54.3,181 Z" fill="#effaf6"/>
<circle cx="48.9" cy="184" r="1.7" fill="#effaf6"/>
<!-- chevrons -->
<g stroke="#effaf6" fill="none" stroke-width="2">
<path d="M211.6,181.8 L216,186.2 L220.4,181.8"/>
<path d="M974.6,448.4 L979,452.8 L983.4,448.4"/>
<path d="M985.8,737.6 L990.2,742 L994.6,737.6"/>
<path d="M639.2,740.8 L643.2,744.8 L650.8,736.8" stroke-width="2.3"/>
</g>
</svg>
</body></html>
